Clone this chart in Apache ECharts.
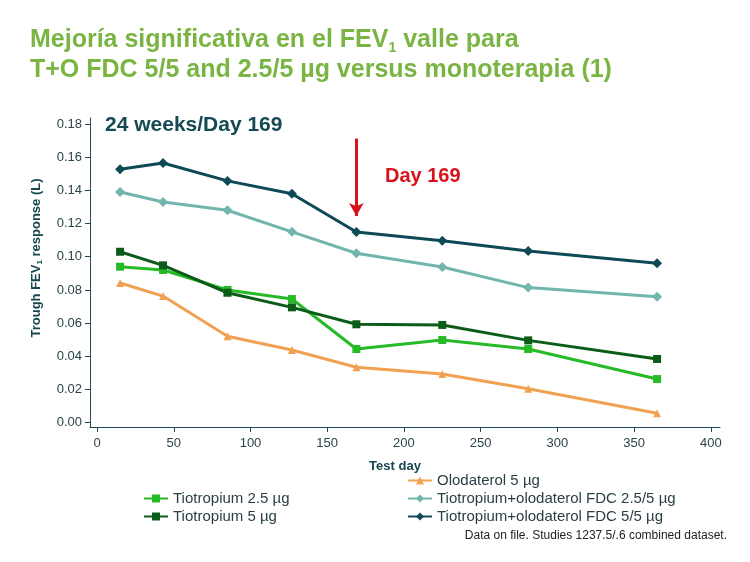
<!DOCTYPE html>
<html>
<head>
<meta charset="utf-8">
<script src="https://cdn.jsdelivr.net/npm/echarts@6/dist/echarts.min.js"></script>
<style>html,body{margin:0;padding:0;background:#fff}#c{width:750px;height:562px}</style>
</head>
<body>
<div id="c"></div>
<script>
const testDays = [15, 43, 85, 127, 169, 225, 281, 365];
const xTicks = [0, 50, 100, 150, 200, 250, 300, 350, 400];
const yTicks = [0, 0.02, 0.04, 0.06, 0.08, 0.10, 0.12, 0.14, 0.16, 0.18];
const tio25 = [0.094, 0.092, 0.080, 0.0745, 0.0444, 0.0498, 0.0444, 0.0263];
const tio5 = [0.103, 0.0948, 0.0783, 0.0695, 0.0593, 0.0589, 0.0496, 0.0384];
const olo5 = [0.0842, 0.0763, 0.0521, 0.0438, 0.0334, 0.0293, 0.0205, 0.0057];
const fdc255 = [0.139, 0.133, 0.128, 0.115, 0.1021, 0.0938, 0.0814, 0.0759];
const fdc55 = [0.1527, 0.1565, 0.1457, 0.138, 0.1149, 0.1097, 0.1035, 0.0961];
const arrowDay = 169;
const arrowFrom = 0.1712, arrowTo = 0.1245;

const FONT = '"Liberation Sans", Arial, sans-serif';
const AX = '#1e4a50';
function pairs(v){ return testDays.map((d,i)=>[d, v[i]]); }
function mk(name, data, color, symbol, extra){
  return Object.assign({
    name, type:'line', data: pairs(data), symbol, symbolSize: symbol==='diamond'?10:8,
    lineStyle:{color, width:3}, itemStyle:{color}, color, z:3, animation:false
  }, extra||{});
}
const chart = echarts.init(document.getElementById('c'), null, {renderer:'canvas'});
chart.setOption({
  animation:false,
  textStyle:{fontFamily:FONT},
  title:{
    left:30, top:25, padding:0,
    text:'{t|Mejoría significativa en el FEV}{s|1}{t| valle para}\n{t|T+O FDC 5/5 and 2.5/5 µg versus monoterapia (1)}',
    textStyle:{rich:{
      t:{fontSize:25, fontWeight:'bold', color:'#7ab543', fontFamily:FONT, lineHeight:30},
      s:{fontSize:14, fontWeight:'bold', color:'#7ab543', fontFamily:FONT, lineHeight:30, verticalAlign:'bottom', padding:[10,0,0,0]}
    }}
  },
  grid:{left:90, right:30, top:118, bottom:135, containLabel:false},
  xAxis:{
    type:'value', min:-4.6, max:406,
    axisLine:{show:true, onZero:false, lineStyle:{color:AX, width:1}},
    axisTick:{show:true, length:5, lineStyle:{color:AX}, customValues:xTicks},
    axisLabel:{fontSize:13, color:'#2a444a', margin:10, customValues:xTicks, fontFamily:FONT},
    splitLine:{show:false}
  },
  yAxis:{
    type:'value', min:-0.0026, max:0.1836,
    axisLine:{show:true, onZero:false, lineStyle:{color:AX, width:1}},
    axisTick:{show:true, length:5, lineStyle:{color:AX}, customValues:yTicks},
    axisLabel:{fontSize:13, color:'#2a444a', margin:8, customValues:yTicks, fontFamily:FONT,
      formatter:v=>v.toFixed(2)},
    splitLine:{show:false}
  },
  legend:[
    {left:143, top:491, padding:0, orient:'vertical', itemGap:3, itemWidth:24, itemHeight:10,
     data:['Tiotropium 2.5 µg','Tiotropium 5 µg'],
     textStyle:{fontSize:15, color:'#2a3f45', fontFamily:FONT}},
    {left:407, top:473, padding:0, orient:'vertical', itemGap:3, itemWidth:24, itemHeight:10,
     data:['Olodaterol 5 µg','Tiotropium+olodaterol FDC 2.5/5 µg','Tiotropium+olodaterol FDC 5/5 µg'],
     textStyle:{fontSize:15, color:'#2a3f45', fontFamily:FONT}}
  ],
  graphic:[
    {type:'text', left:105, top:115, style:{text:'24 weeks/Day 169', font:'bold 21px '+FONT, fill:'#154a52'}},
    {type:'text', left:385, top:166, style:{text:'Day 169', font:'bold 20px '+FONT, fill:'#d8121b'}},
    {type:'text', x:395, y:466, style:{text:'Test day', font:'bold 13px '+FONT, fill:'#16474f', align:'center', verticalAlign:'middle'}},
    {type:'text', x:36, y:258, rotation:Math.PI/2, style:{
      text:'{a|Trough FEV}{s|1}{a| response (L)}', align:'center', verticalAlign:'middle',
      rich:{
        a:{fontSize:13, fontWeight:'bold', fill:'#16474f', fontFamily:FONT, lineHeight:16},
        s:{fontSize:8, fontWeight:'bold', fill:'#16474f', fontFamily:FONT, lineHeight:16, verticalAlign:'bottom'}
      }}},
    {type:'text', right:23, top:530, style:{text:'Data on file. Studies 1237.5/.6 combined dataset.', font:'12px '+FONT, fill:'#222'}}
  ],
  series:[
    mk('Olodaterol 5 µg', olo5, '#f0a252', 'triangle'),
    mk('Tiotropium 2.5 µg', tio25, '#26bb26', 'rect'),
    mk('Tiotropium 5 µg', tio5, '#0b5c18', 'rect'),
    mk('Tiotropium+olodaterol FDC 2.5/5 µg', fdc255, '#72b5ad', 'diamond'),
    mk('Tiotropium+olodaterol FDC 5/5 µg', fdc55, '#0e4a56', 'diamond', {
      markLine:{
        silent:true, symbol:['none','arrow'], symbolSize:[11,13],
        label:{show:false},
        lineStyle:{color:'#d8121b', width:3, type:'solid'},
        data:[[{coord:[arrowDay, arrowFrom]},{coord:[arrowDay, arrowTo]}]]
      }
    })
  ]
});
</script>
</body>
</html>
